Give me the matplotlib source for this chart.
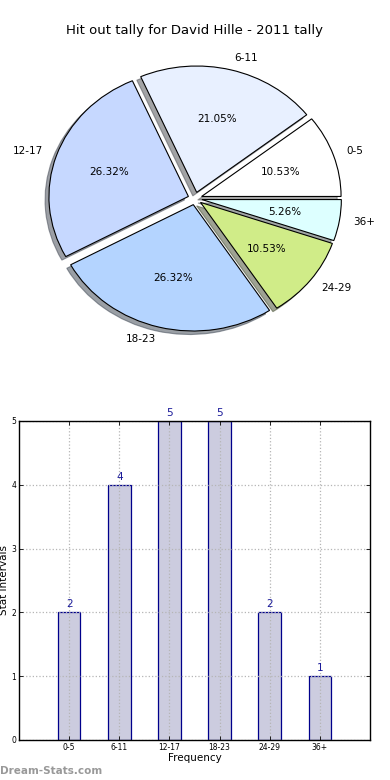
import numpy as np
import matplotlib
matplotlib.use('Agg')
import matplotlib.pyplot as plt

# data
groups = ['0-5', '6-11', '12-17', '18-23', '24-29', '36+']
counts = [2, 4, 5, 5, 2, 1]
pie_colors = ['#ffffff', '#e8f0ff', '#c6d8ff', '#b4d4ff', '#d0ec88', '#ddffff']
title = 'Hit out tally for David Hille - 2011 tally'

fig = plt.figure(figsize=(3.9, 7.8), dpi=100)

# pie
ax1 = fig.add_axes([0.053, 0.543, 0.894, 0.405])
wedges, texts, autotexts = ax1.pie(counts, labels=groups, colors=pie_colors,
                                   explode=[0.05] * len(counts), autopct='%1.2f%%',
                                   shadow=True, startangle=0,
                                   wedgeprops={'linewidth': 0.8, 'edgecolor': 'black'},
                                   textprops={'fontsize': 7.5})
ax1.set_aspect('auto')
ax1.set_xlim(-1.25, 1.25)
ax1.set_ylim(-1.25, 1.25)
ax1.axis('off')
fig.text(0.5, 0.961, title, ha='center', va='center', fontsize=9.5)

# bars
ax2 = fig.add_axes([0.0487, 0.0513, 0.9, 0.4090])
x = np.arange(len(groups))
ax2.bar(x, counts, width=0.45, color='#ccccdf', edgecolor='#00008b', linewidth=0.9, zorder=1)
for xi, c in zip(x, counts):
    ax2.text(xi, c + 0.05, str(c), ha='center', va='bottom', fontsize=7.5, color='#1a1a99')
ax2.set_xlim(-1, 6)
ax2.set_ylim(0, 5)
ax2.set_xticks(x)
ax2.set_xticklabels(groups, fontsize=5.5)
ax2.set_yticks(range(6))
ax2.tick_params(axis='y', labelsize=5.5)
ax2.tick_params(direction='in', top=True, right=True, length=3, width=0.6, pad=2)
ax2.grid(True, linestyle=':', color='#b5b5b5', linewidth=0.9, zorder=3)
ax2.set_axisbelow(False)
for sp in ax2.spines.values():
    sp.set_zorder(5)
    sp.set_linewidth(1.0)
ax2.set_xlabel('Frequency', fontsize=7.5, labelpad=1)
ax2.set_ylabel('Stat Intervals', fontsize=7.5, labelpad=2)

fig.text(0.0, 0.012, 'Dream-Stats.com', fontsize=7.5, color='#999999', fontweight='bold', ha='left', va='center')

plt.savefig('out.png', dpi=100)
